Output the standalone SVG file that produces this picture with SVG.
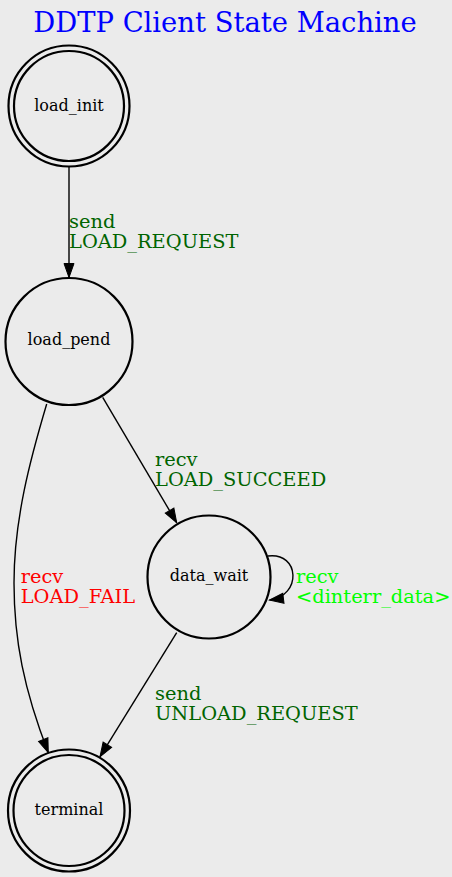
<svg xmlns="http://www.w3.org/2000/svg" width="452" height="877" viewBox="0 0 452 877">
<style>
.node circle{fill:none;stroke:#000;stroke-width:2.2}
.nl{font-family:"DejaVu Serif","Liberation Serif",serif;font-size:16px;fill:#000;text-anchor:middle}
.el{font-family:"DejaVu Serif","Liberation Serif",serif;font-size:19.4px}
.edge{fill:none;stroke:#000;stroke-width:1.4;marker-end:url(#ah)}
.dg{fill:#006400}
</style>
<defs>
<marker id="ah" markerUnits="userSpaceOnUse" markerWidth="16" markerHeight="12" refX="14" refY="5" orient="auto" overflow="visible">
<path d="M0,0 L14,5 L0,10 z" fill="#000" stroke="#000" stroke-width="1"/>
</marker>
</defs>
<rect width="452" height="877" fill="#EBEBEB"/>
<text x="225" y="32" font-family="DejaVu Serif, Liberation Serif, serif" font-size="27.4" fill="#0000FF" text-anchor="middle">DDTP Client State Machine</text>
<g id="connectors">
<path class="edge" d="M69,167 L69,277.5"/>
<path class="edge" d="M102.7,397.3 L176.7,522.7"/>
<path class="edge" d="M46.7,404 C30,460 14,520 14,583 C14,640 24,690 48.3,752.7"/>
<path class="edge" d="M268,556 C300,552 302,596 269.5,600"/>
<path class="edge" d="M176.7,632.7 L100,756.7"/>
<text class="el dg" x="69" y="227.5">send</text>
<text class="el dg" x="69" y="247.5">LOAD_REQUEST</text>
<text class="el dg" x="155" y="465.5">recv</text>
<text class="el dg" x="155" y="485.5">LOAD_SUCCEED</text>
<text class="el" fill="#FF0000" x="20.7" y="582.7">recv</text>
<text class="el" fill="#FF0000" x="20.7" y="602.7">LOAD_FAIL</text>
<text class="el" fill="#00FF00" x="296" y="582.7">recv</text>
<text class="el" fill="#00FF00" x="296" y="602.7" font-size="18.8">&lt;dinterr_data&gt;</text>
<text class="el dg" x="155" y="699.5">send</text>
<text class="el dg" x="155" y="719.5">UNLOAD_REQUEST</text>
</g>
<g id="load_init" class="node">
<circle cx="69" cy="106" r="60.5"/>
<circle cx="69" cy="106" r="55"/>
<text class="nl" x="69" y="111">load_init</text>
</g>
<g id="load_pend" class="node">
<circle cx="69" cy="341.5" r="63.5"/>
<text class="nl" x="69" y="345">load_pend</text>
</g>
<g id="data_wait" class="node">
<circle cx="209" cy="577" r="61.5"/>
<text class="nl" x="209" y="581">data_wait</text>
</g>
<g id="terminal" class="node">
<circle cx="69" cy="810.5" r="61"/>
<circle cx="69" cy="810.5" r="55.5"/>
<text class="nl" x="69" y="815">terminal</text>
</g>
</svg>
